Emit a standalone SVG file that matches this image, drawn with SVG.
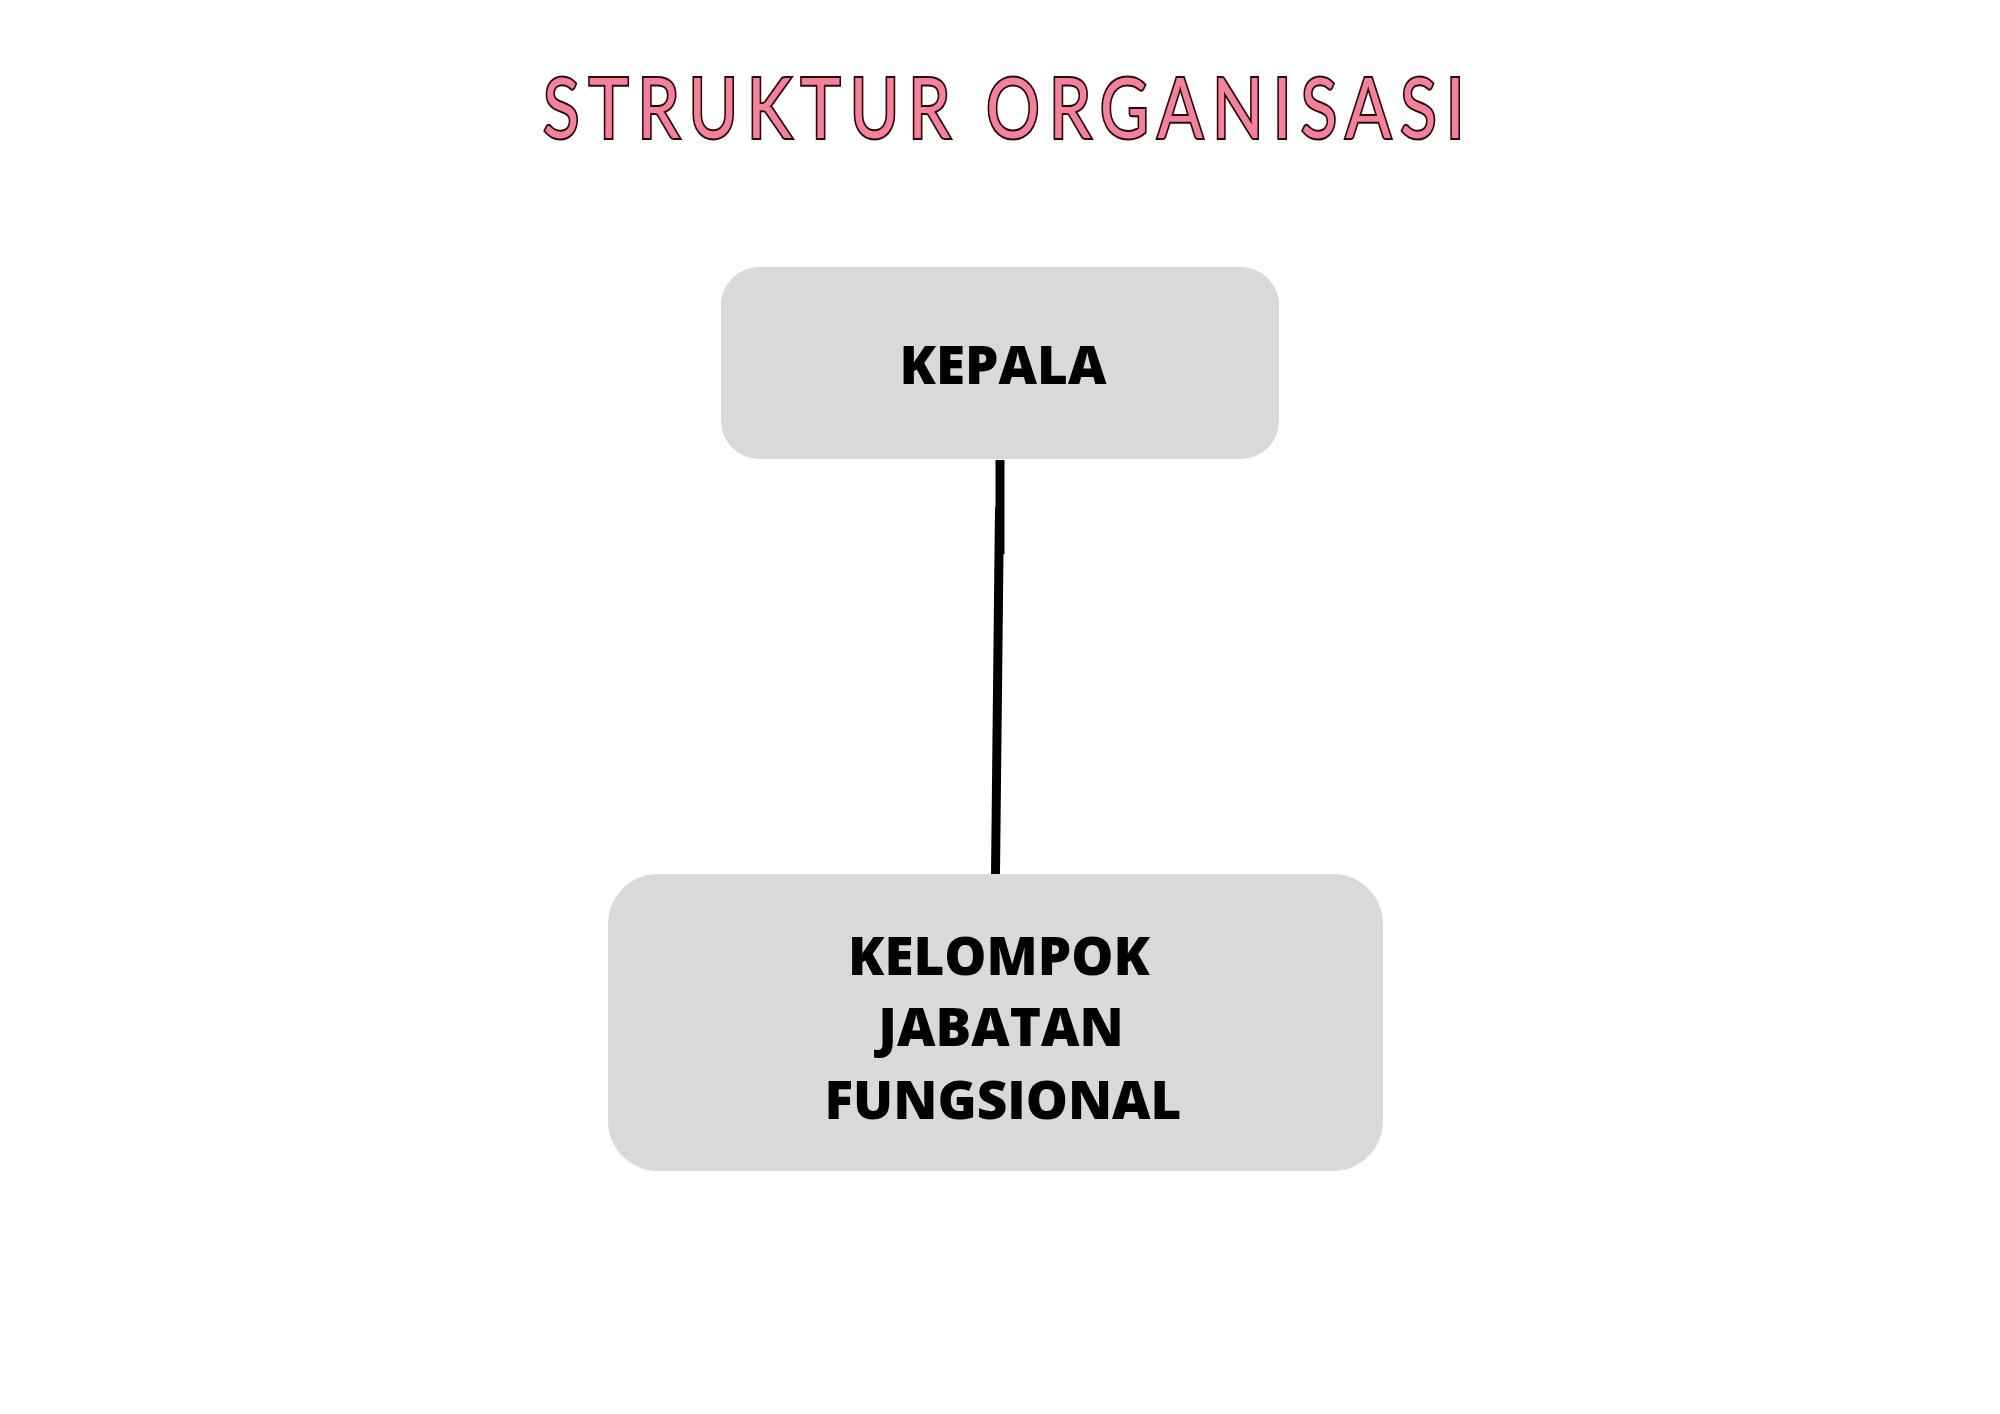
<svg xmlns="http://www.w3.org/2000/svg" width="2000" height="1414" viewBox="0 0 2000 1414">
<style>
.title{font-family:"Lato","Noto Sans",sans-serif;font-size:84px;font-weight:400;fill:#f2819b;stroke:#2a0808;stroke-width:4;paint-order:stroke fill;}
.box{fill:#d9d9d9;}
.lbl{font-family:"Open Sans","Noto Sans",sans-serif;font-size:53px;font-weight:800;fill:#000;text-anchor:middle;}
.conn{stroke:#000;stroke-width:9;fill:none;}
</style>
<rect width="2000" height="1414" fill="#ffffff"/>
<g transform="translate(543,138) scale(0.8,1)">
<text class="title" x="0" y="0" textLength="1152" lengthAdjust="spacing">STRUKTUR ORGANISASI</text>
</g>
<g id="connectors">
<line class="conn" x1="1000" y1="460" x2="1000" y2="554"/>
<line class="conn" x1="999.5" y1="507" x2="995.5" y2="874"/>
</g>
<g id="node-kepala">
<rect class="box" x="721" y="267" width="558" height="192" rx="38" ry="38"/>
<text class="lbl" x="1003" y="384">KEPALA</text>
</g>
<g id="node-kelompok">
<rect class="box" x="608" y="874" width="775" height="297" rx="50" ry="50"/>
<text class="lbl" x="999" y="975">KELOMPOK</text>
<text class="lbl" x="1001" y="1046">JABATAN</text>
<text class="lbl" x="1003" y="1119">FUNGSIONAL</text>
</g>
</svg>
